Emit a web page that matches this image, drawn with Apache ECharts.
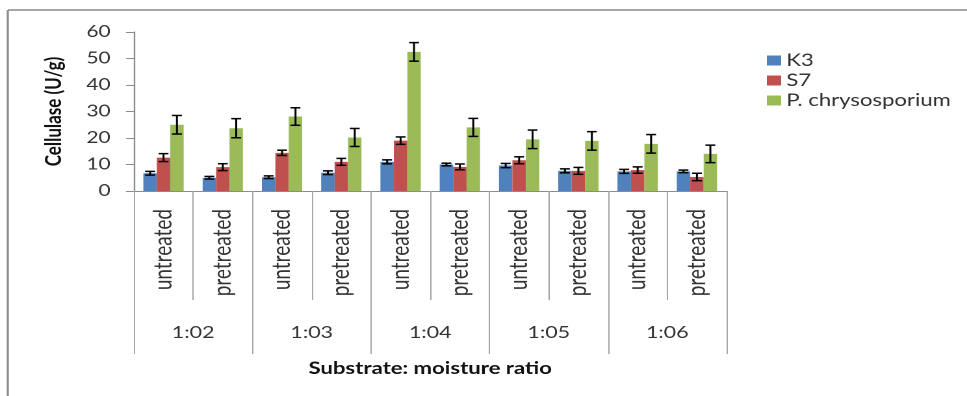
<!DOCTYPE html>
<html>
<head>
<meta charset="utf-8">
<script src="https://cdn.jsdelivr.net/npm/echarts@6/dist/echarts.min.js"></script>
<style>
  html, body { margin: 0; padding: 0; background: #fff; overflow: hidden; }
  #wrap { width: 967px; height: 396px; overflow: hidden; position: relative; }
  #chart { width: 744px; height: 396px; transform: scaleX(1.29973); transform-origin: 0 0; }
</style>
</head>
<body>
<div id="wrap"><div id="chart"></div></div>
<script>
// ---- data ----
const categories = ['untreated','pretreated','untreated','pretreated','untreated','pretreated','untreated','pretreated','untreated','pretreated'];
const groups = ['1:02','1:03','1:04','1:05','1:06'];
const seriesNames = ['K3','S7','P. chrysosporium'];
const k3 = [6.7, 5.0, 5.2, 6.9, 11.0, 10.0, 9.6, 7.6, 7.4, 7.4];
const k3Err = [0.7, 0.5, 0.5, 0.7, 0.75, 0.5, 0.8, 0.75, 0.75, 0.5];
const s7 = [12.6, 9.0, 14.4, 11.0, 19.0, 9.1, 11.6, 7.6, 7.9, 5.3];
const s7Err = [1.5, 1.3, 1.0, 1.3, 1.4, 1.1, 1.3, 1.3, 1.2, 1.4];
const pc = [25.0, 23.7, 28.1, 20.2, 52.5, 24.0, 19.5, 18.9, 17.8, 14.0];
const pcErr = [3.5, 3.6, 3.3, 3.4, 3.5, 3.4, 3.5, 3.5, 3.5, 3.3];
const yTicks = [0, 10, 20, 30, 40, 50, 60];

const colors = ['#4F81BD', '#C0504D', '#9BBB59'];
const values = [k3, s7, pc];
const errors = [k3Err, s7Err, pcErr];
const CAT_GAP = 0.32;
const FONT = 'Lato, "Open Sans", sans-serif';

const chart = echarts.init(document.getElementById('chart'), null, { devicePixelRatio: 2 });

function errorSeries(si) {
  return {
    type: 'custom',
    name: seriesNames[si] + ' err',
    xAxisIndex: 0,
    yAxisIndex: 0,
    silent: true,
    z: 5,
    encode: { x: 0, y: [1, 2] },
    data: values[si].map((v, i) => [i, v - errors[si][i], v + errors[si][i]]),
    renderItem: function (params, api) {
      const band = api.size([1, 0])[0];
      const bw = band * (1 - CAT_GAP) / 3;
      const cx = api.coord([api.value(0), 0])[0] + (si - 1) * bw;
      const yLo = api.coord([api.value(0), api.value(1)])[1];
      const yHi = api.coord([api.value(0), api.value(2)])[1];
      const hw = 3.8;
      const st = { stroke: '#000', lineWidth: 1.5 };
      return {
        type: 'group',
        children: [
          { type: 'line', shape: { x1: cx, y1: yLo, x2: cx, y2: yHi }, style: st },
          { type: 'line', shape: { x1: cx - hw, y1: yHi, x2: cx + hw, y2: yHi }, style: st },
          { type: 'line', shape: { x1: cx - hw, y1: yLo, x2: cx + hw, y2: yLo }, style: st }
        ]
      };
    }
  };
}

const option = {
  backgroundColor: '#fff',
  animation: false,
  textStyle: { fontFamily: FONT },
  graphic: [
    { type: 'line', shape: { x1: 6, y1: 10, x2: 744, y2: 10 }, style: { stroke: '#8a8a8a', lineWidth: 1.6 } },
    { type: 'line', shape: { x1: 6, y1: 10, x2: 6, y2: 396 }, style: { stroke: '#8a8a8a', lineWidth: 1.6 } }
  ],
  legend: {
    orient: 'vertical',
    left: 585,
    top: 47,
    itemWidth: 11,
    itemHeight: 10,
    itemGap: 3,
    icon: 'rect',
    data: seriesNames,
    textStyle: { fontFamily: FONT, fontSize: 17, color: '#333', lineHeight: 17, padding: [0, 0, 0, -1] }
  },
  grid: { left: 103, right: 185, top: 32, bottom: 205, containLabel: false },
  xAxis: [
    {
      type: 'category',
      position: 'bottom',
      data: categories,
      axisLine: { show: true, lineStyle: { color: '#8c8c8c', width: 1 } },
      axisTick: { show: true, length: 109, lineStyle: { color: '#a6a6a6', width: 1 } },
      axisLabel: { rotate: 90, margin: 18, fontSize: 19, color: '#333', fontFamily: FONT },
      name: 'Substrate: moisture ratio',
      nameLocation: 'middle',
      nameGap: 169,
      nameTextStyle: { fontFamily: FONT, fontWeight: 'bold', fontSize: 17, color: '#111' }
    },
    {
      type: 'category',
      position: 'bottom',
      data: groups,
      axisLine: { show: false },
      axisTick: { show: true, length: 163, lineStyle: { color: '#a6a6a6', width: 1 } },
      axisLabel: { margin: 133, fontSize: 16.5, color: '#333', fontFamily: FONT }
    }
  ],
  yAxis: {
    type: 'value',
    min: yTicks[0],
    max: yTicks[yTicks.length - 1],
    interval: 10,
    axisLine: { show: true, lineStyle: { color: '#8c8c8c', width: 1.2 } },
    axisTick: { show: true, length: 6, lineStyle: { color: '#8c8c8c' } },
    splitLine: { show: false },
    axisLabel: { margin: 18, fontSize: 16, color: '#333', fontFamily: FONT },
    name: 'Cellulase (U/g)',
    nameLocation: 'middle',
    nameGap: 53,
    nameTextStyle: { fontFamily: FONT, fontWeight: 'bold', fontSize: 17, color: '#111' }
  },
  series: [
    ...seriesNames.map((n, si) => ({
      type: 'bar',
      name: n,
      xAxisIndex: 0,
      yAxisIndex: 0,
      data: values[si],
      barGap: '0%',
      barCategoryGap: (CAT_GAP * 100) + '%',
      itemStyle: { color: colors[si] }
    })),
    errorSeries(0),
    errorSeries(1),
    errorSeries(2)
  ]
};
chart.setOption(option);
</script>
</body>
</html>
